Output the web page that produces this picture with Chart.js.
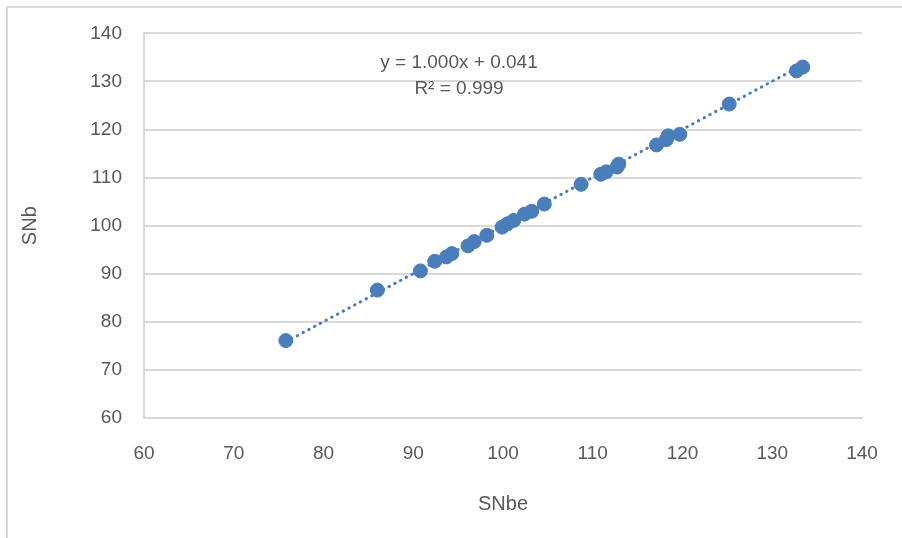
<!DOCTYPE html>
<html lang="en">
<head>
<meta charset="UTF-8">
<title>SNb vs SNbe</title>
<script src="https://cdn.jsdelivr.net/npm/chart.js"></script>
<style>
    body {
        margin: 0;
        background: #fff;
    }
    .frame {
        position: absolute;
        left: 6px;
        top: 6px;
        width: 896px;
        height: 532px;
        border-left: 2px solid #d9d9d9;
        border-top: 2px solid #d9d9d9;
    }
    .wrap {
        position: absolute;
        left: 0;
        top: 0;
        width: 902px;
        height: 538px;
    }
</style>
</head>
<body>
<div class="frame"></div>
<div class="wrap"><canvas id="scatter" width="902" height="538"></canvas></div>
<script>
    // values
    const snbe = [75.8, 86.0, 90.8, 92.4, 93.7, 94.3, 96.1, 96.8, 98.2, 99.9, 100.5, 101.2,
                  102.4, 103.2, 104.6, 108.7, 110.9, 111.5, 112.7, 112.9, 117.1, 118.2,
                  118.4, 119.7, 125.2, 132.7, 133.4];
    const snb = [76.1, 86.6, 90.6, 92.6, 93.5, 94.2, 95.8, 96.7, 98.0, 99.7, 100.4, 101.1,
                 102.4, 103.0, 104.5, 108.6, 110.7, 111.2, 112.2, 112.8, 116.8, 117.9,
                 118.7, 119.0, 125.3, 132.2, 133.0];
    const trendX = [75.8, 133.4];
    const trendY = [75.84, 133.44];
    const axisTicks = [60, 70, 80, 90, 100, 110, 120, 130, 140];
    const equationText = ['y = 1.000x + 0.041', 'R\u00b2 = 0.999'];

    const FONT = '"Liberation Sans", Arial, sans-serif';
    const GREY = '#595959';
    const BLUE = '#4a7ebb';

    const points = snbe.map((x, i) => ({ x: x, y: snb[i] }));
    const trend = trendX.map((x, i) => ({ x: x, y: trendY[i] }));

    // equation label above the line
    const equationLabel = {
        id: 'equationLabel',
        afterDraw(chart) {
            const ctx = chart.ctx;
            ctx.save();
            ctx.fillStyle = GREY;
            ctx.font = '19px ' + FONT;
            ctx.textAlign = 'center';
            ctx.textBaseline = 'middle';
            ctx.fillText(equationText[0], 459, 63);
            ctx.fillText(equationText[1], 459, 89);
            ctx.restore();
        }
    };

    new Chart(document.getElementById('scatter'), {
        type: 'scatter',
        data: {
            datasets: [{
                label: 'SNb',
                data: points,
                backgroundColor: BLUE,
                borderColor: BLUE,
                pointRadius: 7,
                pointHoverRadius: 7,
                order: 1
            }, {
                label: 'Trend',
                type: 'line',
                data: trend,
                showLine: true,
                fill: false,
                borderColor: BLUE,
                borderWidth: 3,
                borderDash: [0.5, 6],
                borderCapStyle: 'round',
                pointRadius: 0,
                order: 2
            }]
        },
        options: {
            responsive: false,
            animation: false,
            devicePixelRatio: 1,
            layout: {
                padding: { left: 0, top: 32, right: 40, bottom: 0 }
            },
            plugins: {
                legend: { display: false },
                tooltip: { enabled: false }
            },
            scales: {
                x: {
                    type: 'linear',
                    min: 60,
                    max: 140,
                    afterBuildTicks: s => { s.ticks = axisTicks.map(v => ({ value: v })); },
                    afterFit: s => { s.height = 120; },
                    grid: { display: false, drawTicks: false },
                    border: { display: true, color: '#d9d9d9', width: 2 },
                    ticks: {
                        color: GREY,
                        font: { family: FONT, size: 19 },
                        padding: 24
                    },
                    title: {
                        display: true,
                        text: 'SNbe',
                        color: GREY,
                        font: { family: FONT, size: 20 },
                        padding: { bottom: 22 }
                    }
                },
                y: {
                    type: 'linear',
                    min: 60,
                    max: 140,
                    afterBuildTicks: s => { s.ticks = axisTicks.map(v => ({ value: v })); },
                    afterFit: s => { s.width = 144; },
                    grid: { color: '#d9d9d9', lineWidth: 2, drawTicks: false },
                    border: { display: true, color: '#d9d9d9', width: 2 },
                    ticks: {
                        color: GREY,
                        font: { family: FONT, size: 19 },
                        padding: 22
                    },
                    title: {
                        display: true,
                        text: 'SNb',
                        color: GREY,
                        font: { family: FONT, size: 20 },
                        padding: { top: 18 }
                    }
                }
            }
        },
        plugins: [equationLabel]
    });
</script>
</body>
</html>
